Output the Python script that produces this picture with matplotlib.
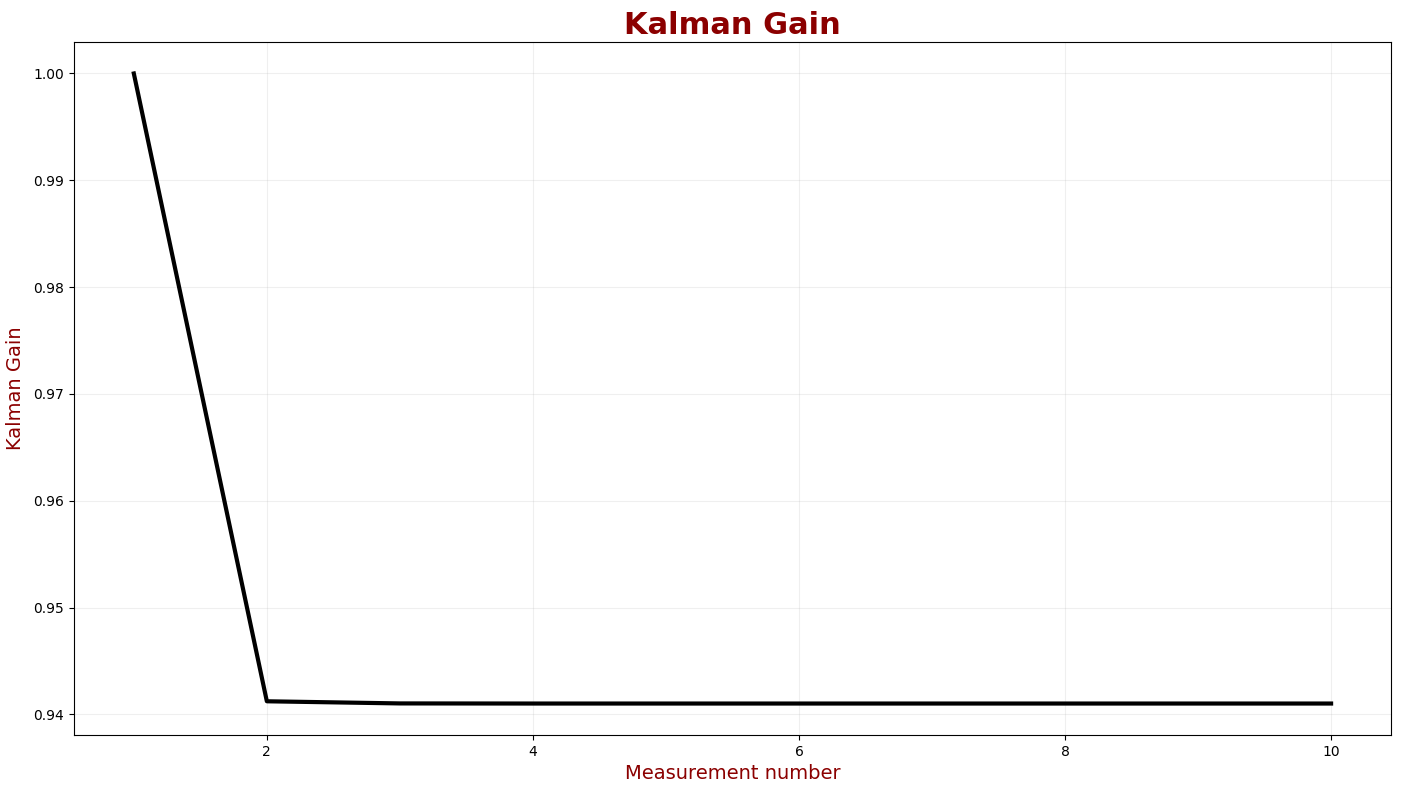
import matplotlib.pyplot as plt

measurements = [1, 2, 3, 4, 5, 6, 7, 8, 9, 10]
kalman_gain = [1.0, 0.94122, 0.94102, 0.94101, 0.94101, 0.94101, 0.94101, 0.94101, 0.94101, 0.94101]

fig, ax = plt.subplots(figsize=(14.06, 7.89), dpi=100)
ax.plot(measurements, kalman_gain, color="black", linewidth=3)
ax.set_title("Kalman Gain", fontsize=22, fontweight="bold", color="darkred")
ax.set_xlabel("Measurement number", fontsize=14, color="darkred")
ax.set_ylabel("Kalman Gain", fontsize=14, color="darkred", labelpad=6)
ax.grid(True, alpha=0.2)
fig.subplots_adjust(left=0.0526, right=0.9893, top=0.9468, bottom=0.0684)
fig.savefig("out.png", dpi=100)
